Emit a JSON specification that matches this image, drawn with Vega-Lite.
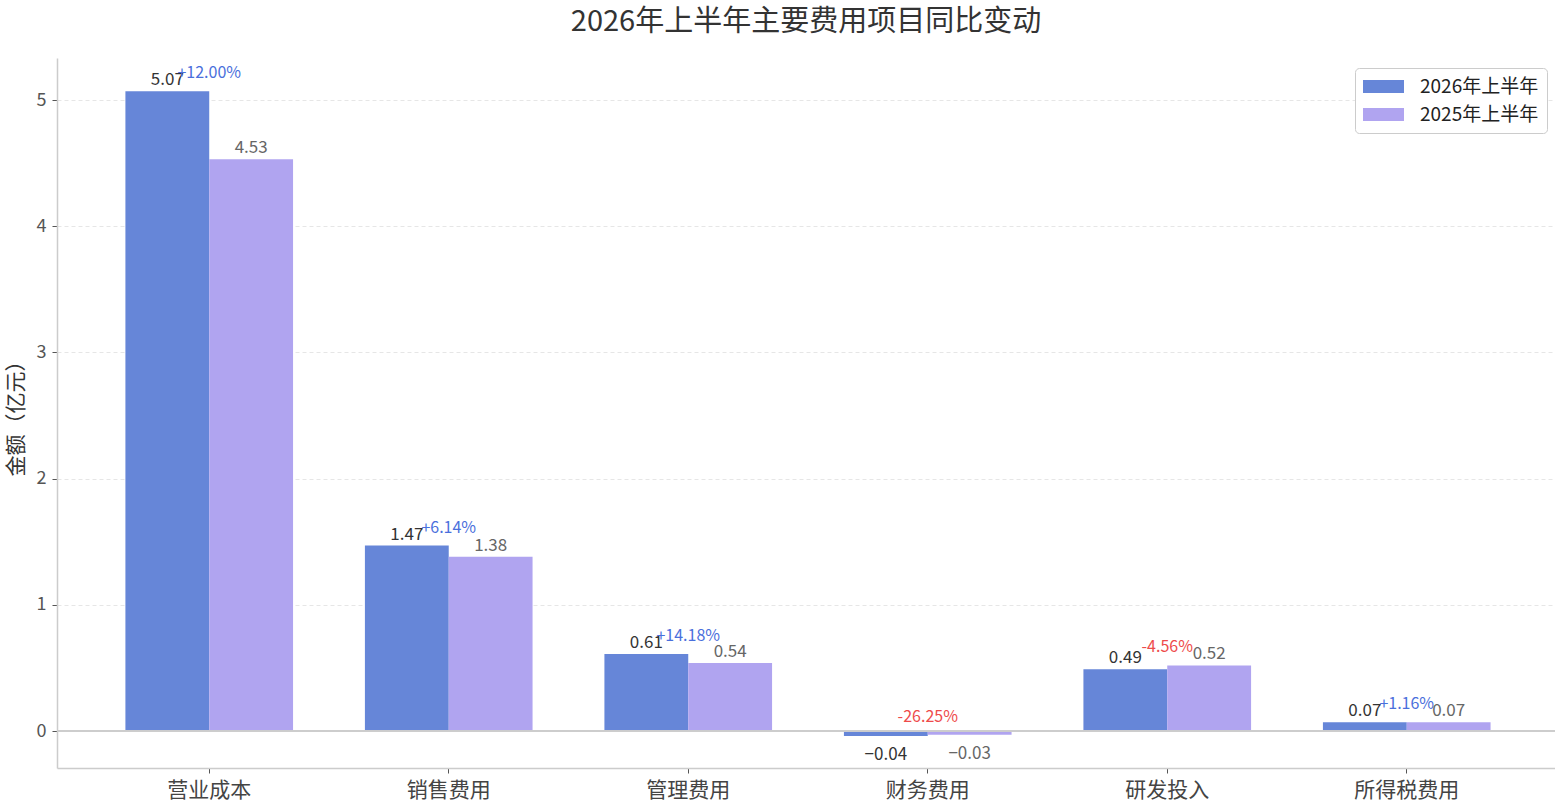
{
  "$schema": "https://vega.github.io/schema/vega-lite/v6.json",
  "autosize": {"type": "none"},
  "width": 1498,
  "height": 710,
  "padding": {"left": 57, "top": 58, "right": 0, "bottom": 41},
  "background": "white",
  "config": {
    "font": "Noto Sans CJK SC",
    "view": {"stroke": null}
  },
  "title": {
    "text": "2026年上半年主要费用项目同比变动",
    "fontSize": 29,
    "fontWeight": "normal",
    "color": "#333333",
    "anchor": "middle",
    "offset": 21
  },
  "data": {
    "values": [
      {"item": "营业成本", "period": "2026年上半年", "value": 5.07, "change": "+12.00%", "dir": "up"},
      {"item": "营业成本", "period": "2025年上半年", "value": 4.53, "change": "+12.00%", "dir": "up"},
      {"item": "销售费用", "period": "2026年上半年", "value": 1.47, "change": "+6.14%", "dir": "up"},
      {"item": "销售费用", "period": "2025年上半年", "value": 1.38, "change": "+6.14%", "dir": "up"},
      {"item": "管理费用", "period": "2026年上半年", "value": 0.61, "change": "+14.18%", "dir": "up"},
      {"item": "管理费用", "period": "2025年上半年", "value": 0.54, "change": "+14.18%", "dir": "up"},
      {"item": "财务费用", "period": "2026年上半年", "value": -0.04, "change": "-26.25%", "dir": "down"},
      {"item": "财务费用", "period": "2025年上半年", "value": -0.03, "change": "-26.25%", "dir": "down"},
      {"item": "研发投入", "period": "2026年上半年", "value": 0.49, "change": "-4.56%", "dir": "down"},
      {"item": "研发投入", "period": "2025年上半年", "value": 0.52, "change": "-4.56%", "dir": "down"},
      {"item": "所得税费用", "period": "2026年上半年", "value": 0.07, "change": "+1.16%", "dir": "up"},
      {"item": "所得税费用", "period": "2025年上半年", "value": 0.07, "change": "+1.16%", "dir": "up"}
    ]
  },
  "encoding": {
    "x": {
      "field": "item",
      "type": "nominal",
      "sort": null,
      "scale": {"paddingInner": 0.3, "paddingOuter": 0.2773, "align": 0.515},
      "axis": {
        "title": null,
        "labelAngle": 0,
        "labelFontSize": 21,
        "labelColor": "#444444",
        "labelPadding": 6,
        "tickColor": "#555555",
        "tickSize": 5,
        "domainColor": "#cccccc",
        "domainWidth": 1.5,
        "grid": false
      }
    },
    "y": {
      "field": "value",
      "type": "quantitative",
      "scale": {"domain": [-0.293, 5.333], "nice": false, "zero": false},
      "axis": {
        "title": "金额（亿元）",
        "titleFontSize": 21,
        "titleFontWeight": "normal",
        "titleColor": "#333333",
        "titlePadding": 10,
        "values": [0, 1, 2, 3, 4, 5],
        "labelFontSize": 18,
        "labelColor": "#555555",
        "labelPadding": 6,
        "tickColor": "#555555",
        "tickSize": 5,
        "domainColor": "#cccccc",
        "domainWidth": 1.5,
        "grid": true,
        "gridColor": "#e6e6e6",
        "gridDash": [4, 3],
        "gridWidth": 1
      }
    }
  },
  "layer": [
    {
      "mark": {"type": "bar"},
      "encoding": {
        "xOffset": {"field": "period", "type": "nominal", "sort": ["2026年上半年", "2025年上半年"], "scale": {"paddingInner": 0, "paddingOuter": 0}},
        "y": {"field": "value", "type": "quantitative"},
        "y2": {"datum": 0},
        "color": {
          "field": "period",
          "type": "nominal",
          "sort": ["2026年上半年", "2025年上半年"],
          "scale": {"domain": ["2026年上半年", "2025年上半年"], "range": ["#6686D8", "#B0A4F0"]},
          "legend": {
            "title": null,
            "orient": "none",
            "legendX": 1298,
            "legendY": 10,
            "fillColor": "white",
            "strokeColor": "#cccccc",
            "cornerRadius": 4,
            "padding": 8,
            "labelFontSize": 19,
            "labelColor": "#222222",
            "labelOffset": 26,
            "rowPadding": 7,
            "symbolType": "M-2,-0.64H2V0.64H-2Z",
            "symbolSize": 420,
            "symbolOffset": 10,
            "symbolStrokeWidth": 0,
            "symbolOpacity": 1
          }
        }
      }
    },
    {
      "mark": {"type": "rule", "color": "#cccccc", "strokeWidth": 1.5},
      "encoding": {"y": {"datum": 0}, "x": {"value": 0}, "x2": {"value": 1498}}
    },
    {
      "transform": [{"filter": "datum.value >= 0"}],
      "mark": {"type": "text", "fontSize": 17, "baseline": "middle", "dy": -11},
      "encoding": {
        "xOffset": {"field": "period", "type": "nominal", "sort": ["2026年上半年", "2025年上半年"], "scale": {"paddingInner": 0, "paddingOuter": 0}},
        "text": {"field": "value", "type": "quantitative", "format": ".2f"},
        "color": {"condition": {"test": "datum.period === '2026年上半年'", "value": "#333333"}, "value": "#666666"}
      }
    },
    {
      "transform": [{"filter": "datum.value < 0"}],
      "mark": {"type": "text", "fontSize": 17, "baseline": "middle", "dy": 19},
      "encoding": {
        "xOffset": {"field": "period", "type": "nominal", "sort": ["2026年上半年", "2025年上半年"], "scale": {"paddingInner": 0, "paddingOuter": 0}},
        "text": {"field": "value", "type": "quantitative", "format": ".2f"},
        "color": {"condition": {"test": "datum.period === '2026年上半年'", "value": "#333333"}, "value": "#666666"}
      }
    },
    {
      "transform": [
        {"joinaggregate": [{"op": "max", "field": "value", "as": "top"}], "groupby": ["item"]},
        {"filter": "datum.period === '2026年上半年'"}
      ],
      "mark": {"type": "text", "fontSize": 16, "baseline": "middle", "dy": -18},
      "encoding": {
        "y": {"field": "top", "type": "quantitative"},
        "text": {"field": "change", "type": "nominal"},
        "color": {"condition": {"test": "datum.dir === 'up'", "value": "#4A6FDC"}, "value": "#EE4B4B"}
      }
    }
  ]
}
